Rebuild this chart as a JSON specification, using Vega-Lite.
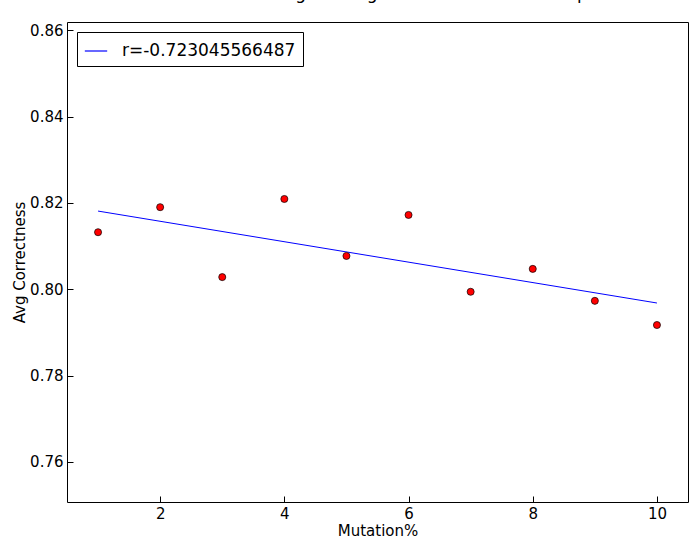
{
  "$schema": "https://vega.github.io/schema/vega-lite/v6.json",
  "width": 621,
  "height": 480,
  "autosize": "none",
  "padding": {"left": 67, "top": 22, "right": 1, "bottom": 44},
  "title": {"text": "Mutation Percentage vs Avg Correctness: 4bit multiplier", "font": "DejaVu Sans", "fontSize": 17, "fontWeight": "normal", "offset": 2, "baseline": "bottom"},
  "config": {
    "font": "DejaVu Sans",
    "view": {"stroke": "black", "strokeWidth": 1},
    "axis": {"grid": false, "domain": false, "tickColor": "black", "tickSize": -6, "labelColor": "black", "labelFontSize": 15, "titleFontSize": 15, "titleFontWeight": "normal", "labelPadding": 10}
  },
  "layer": [
    {
      "data": {"values": [{"x": 1, "y": 0.8181, "s": "r=-0.723045566487"}, {"x": 10, "y": 0.7968, "s": "r=-0.723045566487"}]},
      "mark": {"type": "line", "strokeWidth": 1},
      "encoding": {
        "x": {"field": "x", "type": "quantitative", "scale": {"domain": [0.5, 10.5], "nice": false}, "axis": {"values": [2, 4, 6, 8, 10], "format": "d", "title": "Mutation%", "titlePadding": 2}},
        "y": {"field": "y", "type": "quantitative", "scale": {"domain": [0.7507, 0.8619], "nice": false, "zero": false}, "axis": {"values": [0.76, 0.78, 0.8, 0.82, 0.84, 0.86], "format": ".2f", "title": "Avg Correctness", "titlePadding": 2}},
        "color": {"field": "s", "type": "nominal", "scale": {"range": ["blue"]}, "legend": {"title": null, "orient": "top-left", "offset": 10, "symbolType": "stroke", "symbolSize": 500, "symbolStrokeWidth": 1.2, "labelFontSize": 17, "labelLimit": 400, "labelOffset": 14, "strokeColor": "black", "fillColor": "white", "padding": 7, "cornerRadius": 0}}
      }
    },
    {
      "data": {"values": [
        {"x": 1, "y": 0.8132}, {"x": 2, "y": 0.8190}, {"x": 3, "y": 0.8028}, {"x": 4, "y": 0.8209}, {"x": 5, "y": 0.8077},
        {"x": 6, "y": 0.8172}, {"x": 7, "y": 0.7994}, {"x": 8, "y": 0.8047}, {"x": 9, "y": 0.7973}, {"x": 10, "y": 0.7917}
      ]},
      "mark": {"type": "point", "filled": true, "fill": "red", "stroke": "black", "strokeWidth": 0.7, "size": 50, "opacity": 1},
      "encoding": {
        "x": {"field": "x", "type": "quantitative"},
        "y": {"field": "y", "type": "quantitative"}
      }
    }
  ]
}
